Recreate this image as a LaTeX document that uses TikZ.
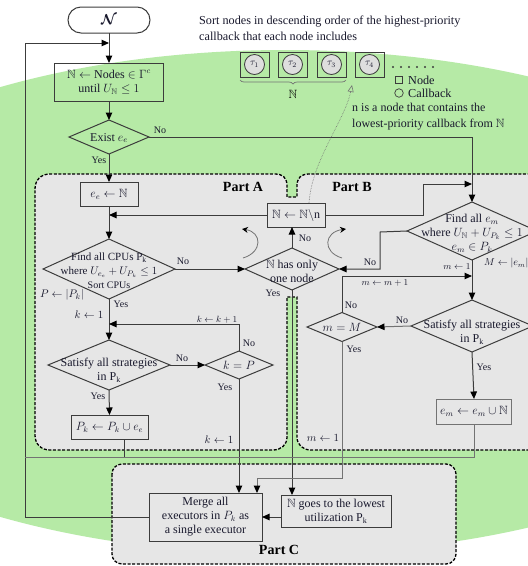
\documentclass[tikz,border=0pt]{standalone}
\usepackage{amsmath,amssymb}
\usepackage{fontspec}
\setmainfont{Liberation Serif}
\usetikzlibrary{shapes.geometric,arrows.meta,decorations.pathreplacing}

\definecolor{bggreen}{RGB}{182,234,166}
\definecolor{partgray}{RGB}{230,230,230}
\definecolor{ln}{RGB}{60,60,60}
\definecolor{lnlight}{RGB}{115,115,115}
\definecolor{txt}{RGB}{25,25,45}
\definecolor{cbgray}{RGB}{222,222,222}

\tikzset{
  flowbox/.style={draw=ln, line width=1pt, rectangle, inner sep=0pt, outer sep=0pt},
  flowdia/.style={draw=ln, line width=1pt, diamond, inner sep=0pt, outer sep=0pt},
  body/.style={font=\fontsize{12}{14}\selectfont, align=center, inner sep=0pt, text=txt},
  lbl/.style={font=\fontsize{10}{11}\selectfont, inner sep=0pt, text=txt},
  asg/.style={font=\fontsize{11}{12}\selectfont, inner sep=0pt, text=txt},
  tinyasg/.style={font=\fontsize{9}{10}\selectfont, inner sep=0pt, text=txt},
  flow/.style={draw=ln, line width=1pt},
  arr/.style={flow, -{Triangle[length=7.5pt,width=6.5pt,color=black]}},
  partframe/.style={draw=black, fill=partgray, line width=1.3pt, dash pattern=on 3pt off 1.6pt},
  partlbl/.style={font=\bfseries\fontsize{14}{15}\selectfont, inner sep=0pt, text=black},
  note/.style={font=\fontsize{12.2}{16}\selectfont, align=left, inner sep=0pt, text=txt},
}

\begin{document}
\begin{tikzpicture}[x=1pt,y=-1pt]
\useasboundingbox (0,0) rectangle (528,566);
\clip (0,0) rectangle (528,566);

% background
\fill[white] (0,0) rectangle (528,566);
\fill[bggreen] (285,302) ellipse [x radius=545, y radius=252];

% Part A and Part B share one outline with a notch on top and a slot below
\path[partframe]
  (35,189) .. controls (35,180) and (41,174) .. (50,174)
  -- (275,174) .. controls (283,174) and (287,178) .. (287,186)
  -- (287,197) -- (297,197) -- (297,186)
  .. controls (297,178) and (301,174) .. (309,174)
  -- (540,174) -- (540,450) -- (311,450)
  .. controls (303,450) and (297,445) .. (297,437)
  -- (297,297) -- (287,297) -- (287,437)
  .. controls (287,445) and (281,450) .. (273,450)
  -- (50,450) .. controls (41,450) and (35,444) .. (35,435) -- cycle;
% Part C
\path[partframe, rounded corners=10pt] (112,464) rectangle (456,564);

\node[partlbl] (pA) at (243,187) {Part A};
\node[partlbl] (pB) at (352,187) {Part B};
\node[partlbl] (pC) at (279,550) {Part C};

% ---- annotation on top ----
\node[note, anchor=north west] (sorttxt) at (199,16) {Sort nodes in descending order of the highest-priority\\callback that each node includes};
\foreach \i/\x in {1/254.5,2/292.5,3/331.5,4/369.5}{
  \node[draw=ln, line width=1pt, minimum width=29pt, minimum height=25pt, inner sep=0pt] (nd\i) at (\x,64.5) {};
  \node[circle, draw=ln, line width=0.8pt, fill=cbgray, minimum size=20pt, inner sep=0pt,
        font=\fontsize{10}{11}\selectfont, text=txt] (cb\i) at (nd\i) {$\tau_{\i}$};
}
\foreach \x in {393,401,409,417,425,433}{ \fill[ln] (\x,67) circle (1.1pt); }
\node[draw=ln, line width=0.7pt, minimum size=7.5pt, inner sep=0pt] (lgsq) at (399,80) {};
\node[note, anchor=west] (lgnode) at (408,80) {Node};
\node[circle, draw=ln, line width=0.7pt, minimum size=8.5pt, inner sep=0pt] (lgci) at (399,93) {};
\node[note, anchor=west] (lgcb) at (408,93) {Callback};
\draw[decorate, decoration={brace, mirror, amplitude=4pt}, draw=lnlight, line width=0.7pt] (240,80) -- (346,80);
\node[font=\fontsize{12}{13}\selectfont, inner sep=0pt] (nset) at (293,94) {$\mathbb{N}$};
\node[note, anchor=north west, font=\fontsize{12}{16}\selectfont] (ntxt) at (352,103) {n is a node that contains the\\lowest-priority callback from $\mathbb{N}$};

% ---- flowchart nodes ----
\node[flowbox, rounded corners=13pt, fill=white, minimum width=82pt, minimum height=26pt, font=\fontsize{14}{15}\selectfont, text=txt] (start) at (109,20) {$\boldsymbol{\mathcal{N}}$};
\node[flowbox, minimum width=109pt, minimum height=38pt, body] (init) at (109,82) {$\mathbb{N}\leftarrow$ Nodes $\in\Gamma^{c}$\\until $U_{\mathbb{N}}\le 1$};
\node[flowdia, minimum width=80pt, minimum height=34pt] (exist) at (109,137) {};
\node[body] (existtxt) at (109,138) {Exist $e_e$};
\node[flowbox, minimum width=58pt, minimum height=24pt, body] (ee) at (109,194) {$e_e\leftarrow\mathbb{N}$};
\node[flowdia, minimum width=132pt, minimum height=60pt] (cpu) at (109,269) {};
\node[body, font=\fontsize{11}{14}\selectfont] (cputxt) at (109,271) {Find all CPUs P$_\mathrm{k}$\\where $U_{e_e}+U_{P_k}\le 1$\\{\fontsize{10}{11}\selectfont Sort CPUs}};
\node[flowdia, minimum width=122pt, minimum height=50pt] (sat1) at (109,365) {};
\node[body] (sat1txt) at (109,370) {Satisfy all strategies\\in P$_\mathrm{k}$};
\node[flowdia, minimum width=68pt, minimum height=28pt] (kp) at (239,365) {};
\node[body] (kptxt) at (239,365) {$k=P$};
\node[flowbox, minimum width=77pt, minimum height=24pt, body] (pk) at (109.5,427) {$P_k\leftarrow P_k\cup e_e$};
\node[flowbox, minimum width=58pt, minimum height=24pt, body] (remove) at (296,215) {$\mathbb{N}\leftarrow\mathbb{N}\backslash$n};
\node[flowdia, minimum width=94pt, minimum height=42pt] (one) at (292,269) {};
\node[body] (onetxt) at (292,271) {$\mathbb{N}$ has only\\one node};
\node[flowdia, minimum width=130pt, minimum height=58pt] (findm) at (472,231) {};
\node[body] (findmtxt) at (472,233) {Find all $e_m$\\where $U_{\mathbb{N}}+U_{P_k}\le 1$\\$e_m\in P_k$};
\node[flowdia, minimum width=122pt, minimum height=52pt] (sat2) at (472,326) {};
\node[body] (sat2txt) at (472,332) {Satisfy all strategies\\in P$_\mathrm{k}$};
\node[flowdia, minimum width=70pt, minimum height=29pt] (mM) at (342,327) {};
\node[body] (mMtxt) at (342,327) {$m=M$};
\node[flowbox, draw=lnlight, minimum width=75pt, minimum height=25pt, body] (emb) at (474,411.5) {$e_m\leftarrow e_m\cup\mathbb{N}$};
\node[flowbox, minimum width=113pt, minimum height=48pt, body] (merge) at (205.5,517) {Merge all\\executors in $P_k$ as\\a single executor};
\node[flowbox, minimum width=110pt, minimum height=32pt, body] (ngoes) at (336,511) {$\mathbb{N}$ goes to the lowest\\utilization P$_\mathrm{k}$};

% ---- connectors ----
\coordinate (loopin) at (109,43);
\coordinate (loopcorner) at (25,43);
\coordinate (ret) at (25,457);
\coordinate (jA) at (109,215);
\coordinate (jB) at (472,184);
\coordinate (bendR) at (423,215);
\coordinate (jK) at (109,324);
\coordinate (bendN) at (380,232);
\coordinate (jM) at (472,276);
\coordinate (bendM) at (257,478);
\coordinate (ntip) at (352,85);

\draw[arr] (start.south) -- (init.north);
\draw[arr] (merge.west) -| (loopcorner) -- (loopin);
\draw[arr] (init.south) -- (exist.north);
\draw[arr] (exist.south) -- (ee.north);
\draw[arr] (exist.east) -| (findm.north);
\draw[arr] (remove.east) -- (bendR) |- (jB);
\draw[arr] (remove.west) -- (jA);
\draw[arr] (ee.south) -- (cpu.north);
\draw[arr] (cpu.east) -- (one.west);
\draw[arr] (one.north) -- (one.north |- remove.south);
\draw[arr] (one.south) -- (one.south |- ngoes.north);
\draw[arr] (cpu.south) -- (sat1.north);
\draw[arr] (kp.north) |- (jK);
\draw[arr] (sat1.east) -- (kp.west);
\draw[arr] (kp.south) -- (kp.south |- merge.north);
\draw[arr] (sat1.south) -- (pk.north);
\draw[flow] ([xshift=14.5pt]pk.south) |- (ret);
\draw[arr] (findm.west) -- (bendN) |- (one.east);
\draw[arr] (findm.south) -- (sat2.north);
\draw[arr] (mM.north) |- (jM);
\draw[arr, draw=lnlight] (sat2.west) -- (mM.east);
\draw[arr, draw=lnlight] (mM.south) |- (bendM) -- (bendM |- merge.north);
\draw[arr] (sat2.south) -- (emb.north);
\draw[flow, draw=lnlight] (emb.south) |- (ret);
\draw[arr] (ngoes.west |- merge.east) -- (merge.east);

% dotted pointer from the removal step up to the node list
\draw[draw=lnlight, line width=0.6pt, densely dotted, -{Triangle[open,length=7pt,width=6pt]}]
  ([xshift=13pt]remove.north) .. controls (312,160) and (345,120) .. (ntip);

% rotation hints around the single-node test
\draw[draw=lnlight, line width=0.8pt, -{Stealth[length=6pt,width=6pt,color=black]}]
  (243,258) .. controls (263,252) and (262,232) .. (242,229);
\draw[draw=lnlight, line width=0.8pt, -{Stealth[length=6pt,width=6pt,color=black]}]
  (342,258) .. controls (322,252) and (324,232) .. (346,229);

% ---- branch labels and assignments ----
\node[lbl] (l1) at (160,130) {No};
\node[lbl] (l2) at (99,160) {Yes};
\node[lbl] (l3) at (183,261) {No};
\node[lbl] (l4) at (121,304) {Yes};
\node[asg] (a1) at (62,295) {$P\leftarrow|P_k|$};
\node[asg] (a2) at (89,315) {$k\leftarrow 1$};
\node[tinyasg] (a3) at (217,320) {$k\leftarrow k+1$};
\node[lbl] (l5) at (249,343) {No};
\node[lbl] (l6) at (182,358) {No};
\node[lbl] (l7) at (225,387) {Yes};
\node[lbl] (l8) at (98,396) {Yes};
\node[asg] (a4) at (219,440) {$k\leftarrow 1$};
\node[lbl] (l9) at (305,238) {No};
\node[lbl] (l10) at (273,293) {Yes};
\node[lbl] (l11) at (370,262) {No};
\node[tinyasg] (a5) at (457,267) {$m\leftarrow 1$};
\node[asg, anchor=west, font=\fontsize{10}{11}\selectfont] (a6) at (484,263) {$M\leftarrow|e_m|$};
\node[tinyasg] (a7) at (385,283) {$m\leftarrow m+1$};
\node[lbl] (l12) at (351,305) {No};
\node[lbl] (l13) at (402,320) {No};
\node[lbl] (l14) at (354,349) {Yes};
\node[lbl] (l15) at (484,367) {Yes};
\node[asg] (a8) at (323,438) {$m\leftarrow 1$};
\end{tikzpicture}
\end{document}
